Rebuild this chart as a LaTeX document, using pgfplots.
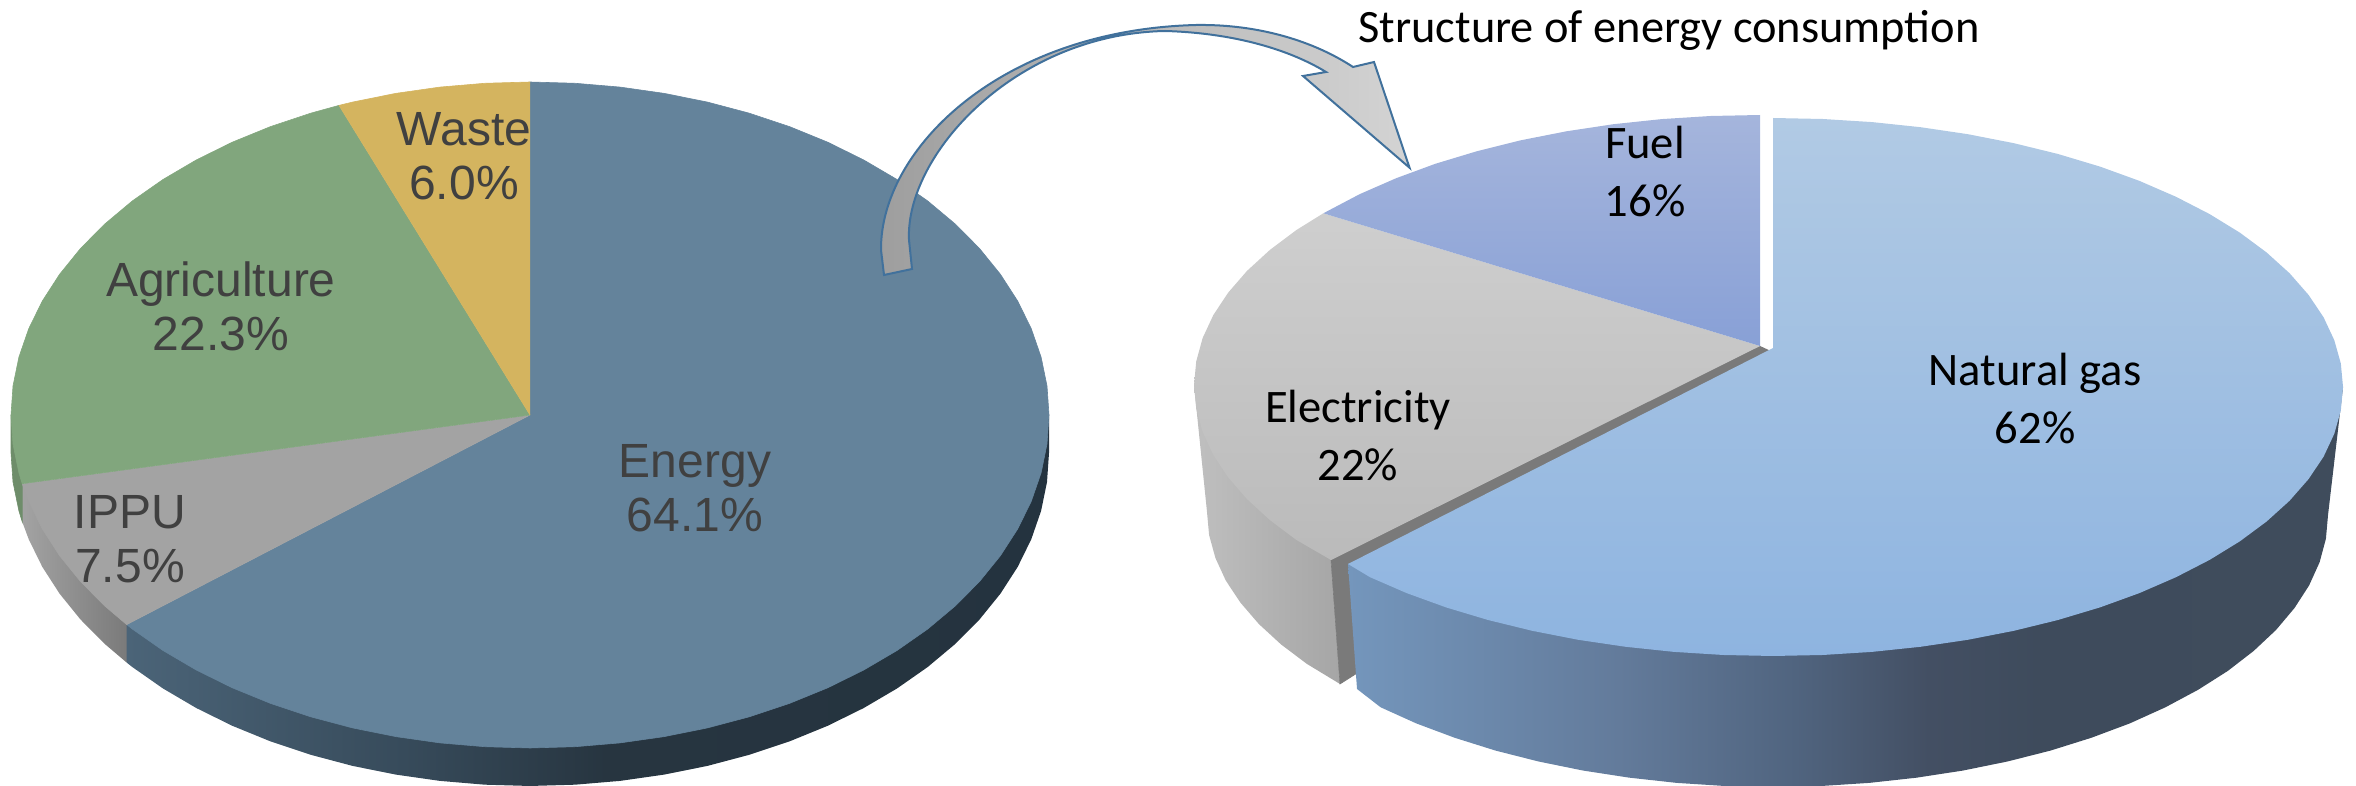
\documentclass[border=0pt]{standalone}
\usepackage{fontspec}
\usepackage{pgfplots}
\pgfplotsset{compat=1.18}
\newfontfamily\arial{Liberation Sans}
\newfontfamily\calibri{Carlito}

\definecolor{energy}{HTML}{64839B}
\definecolor{waste}{HTML}{D4B45F}
\definecolor{agri}{HTML}{81A67D}
\definecolor{ippu}{HTML}{A3A3A3}
\definecolor{labelgrey}{HTML}{404040}
\definecolor{arrowblue}{HTML}{41719C}
\definecolor{fueltop}{HTML}{A5B5DC}
\definecolor{fuelbot}{HTML}{88A0D6}
\definecolor{gastop}{HTML}{B1CAE4}
\definecolor{gasbot}{HTML}{8EB4E0}

% side walls: 25bp and 75bp are the left and right ends of the path
\definecolor{ea}{HTML}{4B6478}
\definecolor{eb}{HTML}{374B5B}
\definecolor{ec}{HTML}{273540}
\definecolor{ed}{HTML}{24333F}
\pgfdeclarehorizontalshading{energyside}{100bp}{color(0bp)=(ea); color(25bp)=(ea); color(40bp)=(eb); color(51bp)=(ec); color(75bp)=(ed); color(100bp)=(ed)}
\definecolor{ga}{HTML}{7496BC}
\definecolor{gb}{HTML}{637B9B}
\definecolor{gc}{HTML}{50647F}
\definecolor{gd}{HTML}{434F63}
\definecolor{ge}{HTML}{3E4B5C}
\definecolor{gf}{HTML}{3F4C5C}
\pgfdeclarehorizontalshading{gasside}{100bp}{color(0bp)=(ga); color(25bp)=(ga); color(38.6bp)=(gb); color(47.5bp)=(gc); color(54.2bp)=(gd); color(59.8bp)=(ge); color(75bp)=(gf); color(100bp)=(gf)}

\begin{document}
\begin{tikzpicture}
\begin{axis}[
    scale only axis, width=1178pt, height=393pt,
    xmin=0, xmax=2356, ymin=0, ymax=786, y dir=reverse,
    hide axis, no markers,
    flat/.style={draw=#1, fill=#1, line width=0.3pt},
]
\addplot[draw=none] coordinates {(0,0)(2356,786)};

% left pie, side
\addplot[draw=none, shading=energyside] coordinates {
(1049,415)(1049,453)(1047,482)(1041.1,510.8)(1031.3,539.2)(1017.7,566.9)(1000.4,593.7)(979.5,619.5)(955.2,644)(927.6,667.1)(897,688.5)(863.6,708.1)(827.7,725.8)(789.5,741.4)(749.3,754.8)(707.5,765.9)(664.3,774.6)(620.1,780.9)(575.3,784.7)(530,786)(484.7,784.7)(439.9,780.9)(395.7,774.6)(352.5,765.9)(310.7,754.8)(270.5,741.4)(232.3,725.8)(196.4,708.1)(163,688.5)(132.4,667.1)(126.7,662.6)(126.7,624.6)};
\addplot[draw=none, shade, left color=ippu, right color=ippu!75!black] coordinates {
(126.7,624.6)(126.7,662.6)(104.8,644)(80.5,619.5)(59.6,593.7)(42.3,566.9)(28.7,539.2)(22.2,521.7)(22.2,483.7)};
\addplot[flat=agri!85!black] coordinates {
(22.2,483.7)(22.2,521.7)(18.9,510.8)(13,482)(11,453)(11,415)};

% left pie, top face
\addplot[flat=energy] coordinates {
(530,415)(530,82)(575.3,83.3)(620.1,87.1)(664.3,93.4)(707.5,102.1)(749.3,113.2)(789.5,126.6)(827.7,142.2)(863.6,159.9)(897,179.5)(927.6,200.9)(955.2,224)(979.5,248.5)(1000.4,274.3)(1017.7,301.1)(1031.3,328.8)(1041.1,357.2)(1047,386)(1049,415)(1047,444)(1041.1,472.8)(1031.3,501.2)(1017.7,528.9)(1000.4,555.7)(979.5,581.5)(955.2,606)(927.6,629.1)(897,650.5)(863.6,670.1)(827.7,687.8)(789.5,703.4)(749.3,716.8)(707.5,727.9)(664.3,736.6)(620.1,742.9)(575.3,746.7)(530,748)(484.7,746.7)(439.9,742.9)(395.7,736.6)(352.5,727.9)(310.7,716.8)(270.5,703.4)(232.3,687.8)(196.4,670.1)(163,650.5)(132.4,629.1)(126.7,624.6)};
\addplot[flat=ippu] coordinates {
(530,415)(126.7,624.6)(104.8,606)(80.5,581.5)(59.6,555.7)(42.3,528.9)(28.7,501.2)(22.2,483.7)};
\addplot[flat=agri] coordinates {
(530,415)(22.2,483.7)(18.9,472.8)(13,444)(11,415)(13,386)(18.9,357.2)(28.7,328.8)(42.3,301.1)(59.6,274.3)(80.5,248.5)(104.8,224)(132.4,200.9)(163,179.5)(196.4,159.9)(232.3,142.2)(270.5,126.6)(310.7,113.2)(339,105.4)};
\addplot[flat=waste] coordinates {
(530,415)(339,105.4)(352.5,102.1)(395.7,93.4)(439.9,87.1)(484.7,83.3)(530,82)};

% right pie, fuel and electricity
\addplot[draw=none, shade, left color=black!25, right color=black!35] coordinates {
(1194,385)(1207,512)(1209.1,535.1)(1215.4,558)(1225.8,580.6)(1240.4,602.6)(1258.8,624)(1281.1,644.5)(1307,664)(1340,684)(1331,560)};
\addplot[flat=black!52] coordinates {
(1760,346)(1331,560)(1340,684)(1362,670)(1773,352)};
\addplot[draw=none, shade, top color=black!19, bottom color=black!27] coordinates {
(1760,346)(1323.3,213.3)(1296.3,230.1)(1269.8,250)(1247,270.9)(1228.1,292.7)(1213.3,315.1)(1202.6,338.1)(1196.2,361.5)(1194,385)(1196.2,408.5)(1202.6,431.9)(1213.3,454.9)(1228.1,477.3)(1247,499.1)(1269.8,520)(1296.3,539.9)(1331,560)};
\addplot[draw=none, shade, top color=fueltop, bottom color=fuelbot] coordinates {
(1760,346)(1760,115)(1710.6,116)(1661.7,119.1)(1613.5,124.2)(1566.4,131.3)(1520.8,140.3)(1477,151.2)(1435.3,163.8)(1396.2,178.2)(1359.8,194.1)(1323.3,213.3)};

% right pie, natural gas
\addplot[draw=none, shading=gasside] coordinates {
(2343,387)(2328,515)(2325.9,538.7)(2319.6,562.2)(2309.1,585.4)(2294.5,608)(2276,630)(2253.6,651)(2227.7,671)(2198.1,689.8)(2165.4,707.3)(2129.8,723.4)(2091.3,737.8)(2050.5,750.6)(2007.5,761.5)(1962.8,770.6)(1916.6,777.7)(1869.3,782.9)(1821.4,786)(1773,787)(1724.6,786)(1676.7,782.9)(1629.4,777.7)(1583.2,770.6)(1538.5,761.5)(1495.5,750.6)(1454.7,737.8)(1416.2,723.4)(1380.6,707.3)(1357,689)(1348,564)};
\addplot[draw=none, shade, top color=gastop, bottom color=gasbot] coordinates {
(1773,348)(1773,118)(1822.7,119)(1872,122.1)(1920.5,127.2)(1967.9,134.2)(2013.9,143.2)(2058,154)(2100,166.6)(2139.4,180.9)(2176,196.8)(2209.6,214.1)(2239.9,232.7)(2266.6,252.5)(2289.6,273.3)(2308.6,295)(2323.6,317.4)(2334.3,340.3)(2340.8,363.5)(2343,387)(2340.8,410.5)(2334.3,433.7)(2323.6,456.6)(2308.6,479)(2289.6,500.7)(2266.6,521.5)(2239.9,541.3)(2209.6,559.9)(2176,577.2)(2139.4,593.1)(2100,607.4)(2058,620)(2013.9,630.8)(1967.9,639.8)(1920.5,646.8)(1872,651.9)(1822.7,655)(1773,656)(1723.3,655)(1674,651.9)(1625.5,646.8)(1578.1,639.8)(1532.1,630.8)(1488,620)(1446,607.4)(1406.6,593.1)(1370,577.2)(1348,564)};

% curved arrow between the pies
\draw[arrowblue, line width=1pt, line join=miter, left color=black!38, right color=black!17]
  (axis cs:884,275) -- (axis cs:881,250)
  .. controls (axis cs:880,150) and (axis cs:1000,30) .. (axis cs:1196,25)
  .. controls (axis cs:1260,24) and (axis cs:1315,42) .. (axis cs:1353,67)
  -- (axis cs:1374,62) -- (axis cs:1409.5,167.7) -- (axis cs:1303,76) -- (axis cs:1326,72)
  .. controls (axis cs:1290,50) and (axis cs:1235,33) .. (axis cs:1165,31)
  .. controls (axis cs:1015,34) and (axis cs:905,155) .. (axis cs:909,240)
  -- (axis cs:912,269) -- cycle;

% labels
\begin{scope}[every node/.style={align=center, text=labelgrey, font=\arial\fontsize{24}{27}\selectfont}]
\node at (axis cs:464,156) {Waste\\6.0\%};
\node at (axis cs:221,306) {Agriculture\\22.3\%};
\node at (axis cs:130,539) {IPPU\\7.5\%};
\node at (axis cs:695,488) {Energy\\64.1\%};
\end{scope}
\begin{scope}[every node/.style={align=center, text=black, font=\calibri\fontsize{23.3}{29}\selectfont}]
\node at (axis cs:1645,172) {Fuel\\16\%};
\node at (axis cs:2035,399) {Natural gas\\62\%};
\node at (axis cs:1358,436) {Electricity\\22\%};
\end{scope}
\node[text=black, font=\calibri\fontsize{23.2}{28}\selectfont] at (axis cs:1669,30) {Structure of energy consumption};
\end{axis}
\end{tikzpicture}
\end{document}
